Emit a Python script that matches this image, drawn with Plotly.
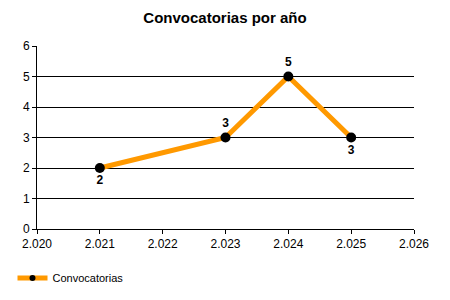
import plotly.graph_objects as go

years = [2021, 2023, 2024, 2025]
counts = [2, 3, 5, 3]
label_pos = ["bottom center", "top center", "top center", "bottom center"]
tick_years = [2020, 2021, 2022, 2023, 2024, 2025, 2026]
tick_labels = [f"{y // 1000}.{y % 1000:03d}" for y in tick_years]

font = "Liberation Sans, Arial, sans-serif"

fig = go.Figure()
fig.add_trace(go.Scatter(
    x=years, y=counts, mode="lines+markers+text", name="Convocatorias",
    showlegend=False,
    line=dict(color="#FF9900", width=5),
    marker=dict(color="black", size=10),
    text=[str(c) for c in counts], textposition=label_pos,
    textfont=dict(family=font, size=12, color="black", weight="bold"),
))
# legend entry with the small marker used in the reference legend
fig.add_trace(go.Scatter(
    x=[None], y=[None], mode="lines+markers", name="Convocatorias",
    showlegend=True,
    line=dict(color="#FF9900", width=5),
    marker=dict(color="black", size=6),
))

fig.update_layout(
    width=450, height=300,
    margin=dict(l=37, r=36, t=46, b=71, autoexpand=False),
    paper_bgcolor="white", plot_bgcolor="white",
    title=dict(text="<b>Convocatorias por año</b>", x=0.5, xanchor="center",
               y=1 - 18 / 300, yanchor="middle",
               font=dict(family=font, size=15, color="black")),
    legend=dict(xref="container", yref="container",
                x=12.5 / 450, y=1 - 278 / 300, xanchor="left", yanchor="middle",
                font=dict(family=font, size=11, color="black"),
                bgcolor="rgba(0,0,0,0)", itemwidth=30),
    font=dict(family=font, size=12, color="black"),
)
fig.update_xaxes(range=[2020, 2026], tickvals=tick_years, ticktext=tick_labels,
                 showgrid=False, zeroline=False, showline=True, linecolor="black",
                 linewidth=1, ticks="outside", ticklen=4, tickcolor="black",
                 tickfont=dict(family=font, size=12, color="black"))
fig.update_yaxes(range=[0, 6], dtick=1, showgrid=True, gridcolor="black",
                 gridwidth=1, zeroline=False, showline=True, linecolor="black",
                 linewidth=1, ticks="outside", ticklen=4, tickcolor="black",
                 tickfont=dict(family=font, size=12, color="black"))

fig.write_html("out.html")
